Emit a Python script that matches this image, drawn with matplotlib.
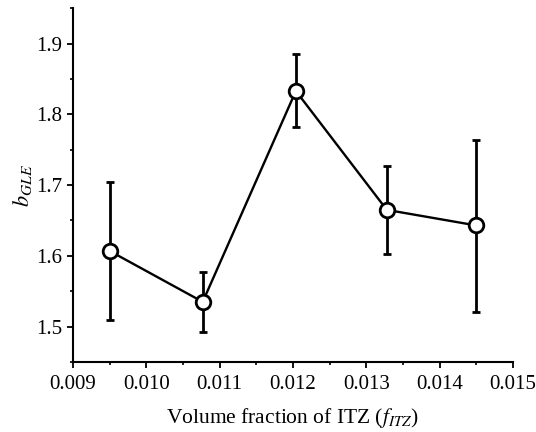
import numpy as np
import matplotlib
matplotlib.use("Agg")
from matplotlib import pyplot as plt
from matplotlib.ticker import MultipleLocator, AutoMinorLocator

# データ
f_itz = [0.0095, 0.01077, 0.01204, 0.01328, 0.0145]
b_gle = [1.607, 1.535, 1.833, 1.665, 1.643]
err_upper = [1.705, 1.577, 1.885, 1.727, 1.764]
err_lower = [1.509, 1.492, 1.782, 1.603, 1.521]

plt.rcParams['font.family'] = ['Liberation Serif', 'DejaVu Serif']
plt.rcParams['mathtext.fontset'] = 'stix'

y = np.array(b_gle)
yerr = [y - np.array(err_lower), np.array(err_upper) - y]

fig = plt.figure(figsize=(5.36, 4.32), dpi=100)
ax = fig.add_axes([0.136, 0.162, 0.821, 0.819])

ax.errorbar(f_itz, b_gle, yerr=yerr, color='black', lw=1.7,
            marker='o', ms=10.5, mfc='white', mec='black', mew=2.0,
            capsize=3.2, capthick=2.0, elinewidth=2.0, zorder=3)

ax.set_xlim(0.009, 0.015)
ax.set_ylim(1.45, 1.95)
ax.xaxis.set_major_locator(MultipleLocator(0.001))
ax.yaxis.set_major_locator(MultipleLocator(0.1))
ax.xaxis.set_minor_locator(AutoMinorLocator(2))
ax.yaxis.set_minor_locator(AutoMinorLocator(2))
ax.xaxis.set_major_formatter(plt.FormatStrFormatter('%.3f'))
ax.yaxis.set_major_formatter(plt.FormatStrFormatter('%.1f'))

ax.spines['top'].set_visible(False)
ax.spines['right'].set_visible(False)
for s in ['left', 'bottom']:
    ax.spines[s].set_linewidth(1.5)
ax.tick_params(which='major', direction='out', length=4, width=1.3, labelsize=15)
ax.tick_params(axis='x', which='major', pad=5)
ax.tick_params(which='minor', direction='out', length=2.5, width=1.2)

ax.set_xlabel("Volume fraction of ITZ ($f_{ITZ}$)", fontsize=15.5, labelpad=9)
ax.set_ylabel("$b_{GLE}$", fontsize=16, labelpad=2)

fig.savefig("out.png", dpi=100)
